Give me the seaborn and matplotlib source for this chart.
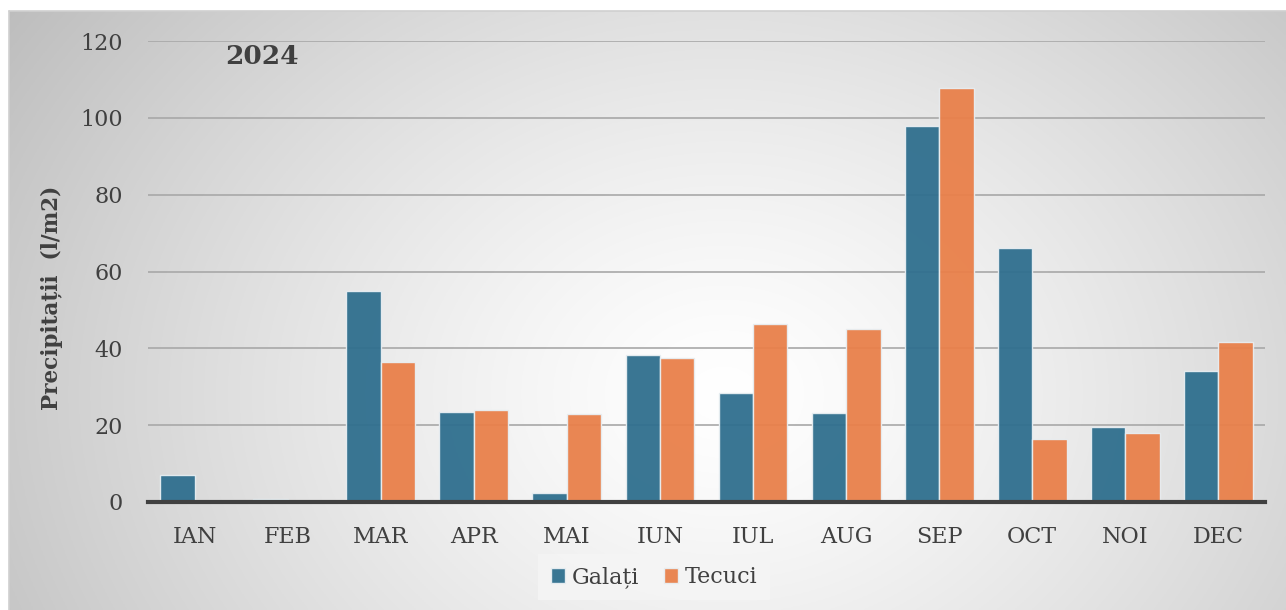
import numpy as np
import pandas as pd
import matplotlib
matplotlib.use("Agg")
import matplotlib.pyplot as plt
import seaborn as sns

months = ["IAN", "FEB", "MAR", "APR", "MAI", "IUN", "IUL", "AUG", "SEP", "OCT", "NOI", "DEC"]
galati = [7.0, 0.8, 55.0, 23.3, 2.3, 38.3, 28.3, 23.1, 97.9, 66.0, 19.6, 34.2]
tecuci = [0.0, 0.0, 36.4, 23.9, 22.9, 37.5, 46.3, 45.1, 107.8, 16.3, 17.9, 41.7]
series = ["Galați", "Tecuci"]
yticks = [0, 20, 40, 60, 80, 100, 120]

df = pd.DataFrame({
    "luna": months * 2,
    "statie": [series[0]] * len(months) + [series[1]] * len(months),
    "valoare": galati + tecuci,
})

sns.set_theme(style="white")
plt.rcParams["font.family"] = ["DejaVu Serif"]
text_col = "#404040"

W, H = 1286, 610
fig = plt.figure(figsize=(W / 100, H / 100), dpi=100)
fig.patch.set_facecolor("white")

# radial gradient backdrop of the chart area
bg = fig.add_axes([9 / W, 0, 1 - 9 / W, 1 - 11 / H], zorder=-5)
gx, gy = np.meshgrid(np.linspace(0, 1, 640), np.linspace(0, 1, 300))
cx, cy = 0.56, 0.64
r = np.sqrt(((gx - cx) / 0.62) ** 2 + ((gy - cy) / 1.05) ** 2)
shade = 1.0 - 0.23 * np.clip(r, 0, 1.1) ** 1.3
bg.imshow(np.dstack([shade] * 3), extent=[0, 1, 0, 1], origin="upper", aspect="auto")
bg.set_xlim(0, 1)
bg.set_ylim(0, 1)
bg.axis("off")
fig.add_artist(plt.Line2D([9 / W, 1], [1 - 11 / H, 1 - 11 / H], color="#d0d0d0", lw=1.2))
fig.add_artist(plt.Line2D([9 / W, 9 / W], [0, 1 - 11 / H], color="#d0d0d0", lw=1.2))

ax = fig.add_axes([148 / W, 1 - 502 / H, (1265 - 148) / W, (502 - 41) / H])
ax.patch.set_alpha(0)

sns.barplot(data=df, x="luna", y="valoare", hue="statie", order=months,
            hue_order=series, palette=["#2f6f8e", "#e9804a"], width=0.74,
            gap=0.0, saturation=1, alpha=0.95, edgecolor="#e8eef2",
            linewidth=1.0, ax=ax, legend=True, zorder=2)

ax.set_ylim(0, 120)
ax.set_xlim(-0.5, 11.5)
ax.set_yticks(yticks)
ax.yaxis.grid(True, color="#a8a8a8", lw=1.2, zorder=1)
ax.set_axisbelow(True)
for s in ["top", "right", "left"]:
    ax.spines[s].set_visible(False)
ax.spines["bottom"].set_color("#404040")
ax.spines["bottom"].set_linewidth(3)
ax.spines["bottom"].set_zorder(5)
ax.tick_params(axis="both", length=0, labelsize=16, colors=text_col)
ax.tick_params(axis="y", pad=18)
ax.tick_params(axis="x", pad=17)
ax.set_xlabel("")
ax.set_ylabel("Precipitații  (l/m2)", fontsize=15.5, fontweight="bold",
              color=text_col)
ax.yaxis.set_label_coords(-0.076, 0.443)

ax.text((262 - 148) / (1265 - 148), (502 - 57) / (502 - 41), "2024",
        transform=ax.transAxes, fontsize=19, fontweight="bold",
        color=text_col, ha="center", va="center")

leg = ax.legend(loc="center", bbox_to_anchor=(654 / W, 1 - 577 / H),
                bbox_transform=fig.transFigure, ncol=2, frameon=True,
                fontsize=16, handlelength=0.65, handleheight=0.65,
                handletextpad=0.3, columnspacing=1.1, borderpad=0.55,
                fancybox=False, title=None)
leg.get_frame().set_facecolor("#f5f5f5")
leg.get_frame().set_edgecolor("none")
for t in leg.get_texts():
    t.set_color(text_col)

fig.savefig("out.png", dpi=100)
